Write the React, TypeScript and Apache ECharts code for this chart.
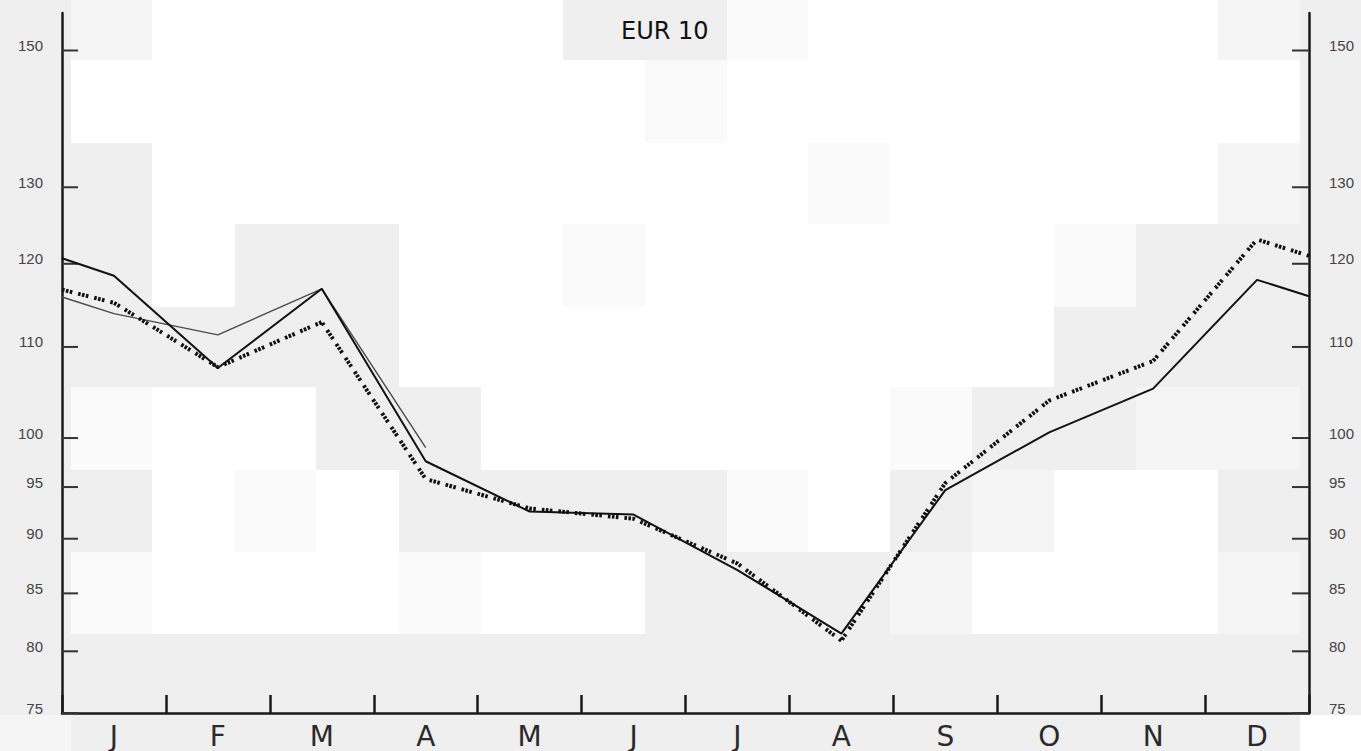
import React, { useEffect, useRef } from "react";
import * as echarts from "echarts";

// ---- data ----
const months = ["J", "F", "M", "A", "M", "J", "J", "A", "S", "O", "N", "D"];
// x positions: left edge, 12 month centres, right edge
const xPositions = [0, 0.5, 1.5, 2.5, 3.5, 4.5, 5.5, 6.5, 7.5, 8.5, 9.5, 10.5, 11.5, 12];
const solidThick = [120.7, 118.5, 107.6, 116.9, 97.6, 92.6, 92.3, 87.1, 81.5, 94.7, 100.6, 105.3, 118.0, 116.0];
const solidThin = [115.9, 113.9, 111.4, 116.9, 99.0, null, null, null, null, null, null, null, null, null];
const dotted = [116.8, 115.2, 107.7, 112.9, 95.8, 92.9, 91.9, 87.7, 80.9, 95.4, 104.0, 108.4, 123.1, 121.0];
const yTicks = [75, 80, 85, 90, 95, 100, 110, 120, 130, 150];
const yMin = 75;
const yMax = 156;
const title = "EUR 10";

// ---- decorative background blocks (scan texture) ----
const colEdges = [0, 71, 152, 235, 316, 399, 481, 563, 645, 727, 808, 890, 972, 1054, 1136, 1218, 1300, 1361];
const rowEdges = [0, 60, 143, 224, 307, 387, 470, 552, 634, 715, 751];
const shadeRows = [
  "glwwwwwggfwwwwwlg",
  "gwwwwwwwfwwwwwwwg",
  "ggwwwwwwwwfwwwwlg",
  "ggwggwwfwwwwwfggg",
  "gggggwwwwwwwwgggg",
  "gfwwggwwwwwfggllg",
  "ggwfwggggfwglwwgg",
  "gfwwwfwwggglwwwlg",
  "ggggggggggggggggg",
  "lgggggggggggggggw",
];
const shadeColors: Record<string, string> = { g: "#efefef", l: "#f5f5f5", f: "#fafafa" };

export default function App() {
  const ref = useRef<HTMLDivElement>(null);
  useEffect(() => {
    if (!ref.current) return;
    const chart = echarts.init(ref.current, null, { renderer: "svg" });

    const bg: any[] = [];
    shadeRows.forEach((row, r) => {
      row.split("").forEach((c, ci) => {
        if (c === "w") return;
        bg.push({
          type: "rect",
          silent: true,
          z: -10,
          shape: {
            x: colEdges[ci],
            y: rowEdges[r],
            width: colEdges[ci + 1] - colEdges[ci],
            height: rowEdges[r + 1] - rowEdges[r],
          },
          style: { fill: shadeColors[c] },
        });
      });
    });

    const toPairs = (arr: (number | null)[]) => arr.map((v, i) => [xPositions[i], v]);

    const option: any = {
      animation: false,
      backgroundColor: "#ffffff",
      title: {
        text: title,
        left: 621,
        top: 19,
        padding: 0,
        textStyle: {
          fontFamily: "DejaVu Sans",
          fontSize: 24,
          lineHeight: 24,
          fontWeight: "normal",
          color: "#111",
        },
      },
      graphic: { elements: bg },
      grid: { left: 62, right: 52, top: 13, bottom: 38 },
      xAxis: [
        { type: "value", min: 0, max: 12, show: false },
        {
          type: "category",
          data: months,
          boundaryGap: true,
          position: "bottom",
          axisLine: { show: true, lineStyle: { color: "#1a1a1a", width: 2.5 } },
          axisTick: {
            show: true,
            inside: true,
            length: 18,
            interval: 0,
            lineStyle: { color: "#1a1a1a", width: 2.5 },
          },
          axisLabel: {
            show: true,
            interval: 0,
            margin: 9,
            fontFamily: "DejaVu Sans",
            fontSize: 28,
            lineHeight: 28,
            color: "#2a2a2a",
            verticalAlign: "top",
          },
          splitLine: { show: false },
        },
      ],
      yAxis: [
        {
          type: "log",
          min: yMin,
          max: yMax,
          position: "left",
          axisLine: { show: true, lineStyle: { color: "#1a1a1a", width: 2.5 } },
          axisTick: { show: false },
          axisLabel: { show: false },
          splitLine: { show: false },
          minorTick: { show: false },
        },
        {
          type: "log",
          min: yMin,
          max: yMax,
          position: "right",
          axisLine: { show: true, lineStyle: { color: "#1a1a1a", width: 2.5 } },
          axisTick: { show: false },
          axisLabel: { show: false },
          splitLine: { show: false },
        },
      ],
      series: [
        {
          type: "custom",
          xAxisIndex: 0,
          yAxisIndex: 0,
          clip: false,
          silent: true,
          z: 3,
          data: yTicks.map((v) => [0, v]),
          encode: { x: 0, y: 1 },
          renderItem: (params: any, api: any) => {
            const v = api.value(1);
            const pL = api.coord([0, v]);
            const pR = api.coord([12, v]);
            const txt = String(v);
            const common = { fontSize: 15, fontFamily: "Liberation Sans", fill: "#444" };
            return {
              type: "group",
              children: [
                {
                  type: "line",
                  shape: { x1: pL[0], y1: pL[1], x2: pL[0] + 16, y2: pL[1] },
                  style: { stroke: "#333", lineWidth: 2 },
                },
                {
                  type: "line",
                  shape: { x1: pR[0] - 17, y1: pR[1], x2: pR[0], y2: pR[1] },
                  style: { stroke: "#333", lineWidth: 2 },
                },
                {
                  type: "text",
                  x: pL[0] - 19,
                  y: pL[1] - 5,
                  style: { ...common, text: txt, textAlign: "right", textVerticalAlign: "middle" },
                },
                {
                  type: "text",
                  x: pR[0] + 20,
                  y: pR[1] - 5,
                  style: { ...common, text: txt, textAlign: "left", textVerticalAlign: "middle" },
                },
              ],
            };
          },
        },
        {
          name: "thin",
          type: "line",
          xAxisIndex: 0,
          yAxisIndex: 0,
          data: toPairs(solidThin),
          showSymbol: false,
          symbol: "none",
          connectNulls: false,
          lineStyle: { color: "#4a4a4a", width: 1.4 },
          z: 4,
        },
        {
          name: "dotted",
          type: "line",
          xAxisIndex: 0,
          yAxisIndex: 0,
          data: toPairs(dotted),
          showSymbol: false,
          symbol: "none",
          lineStyle: {
            color: "#111",
            width: 4,
            type: [2.6, 1.4, 2.6, 1.4, 2.6, 6],
            cap: "butt",
          },
          z: 5,
        },
        {
          name: "thick",
          type: "line",
          xAxisIndex: 0,
          yAxisIndex: 0,
          data: toPairs(solidThick),
          showSymbol: false,
          symbol: "none",
          lineStyle: { color: "#111", width: 2 },
          z: 6,
        },
      ],
    };
    chart.setOption(option);
    return () => chart.dispose();
  }, []);
  return (
    <div
      ref={ref}
      style={{ position: "absolute", left: 0, top: 0, width: 1361, height: 751 }}
    />
  );
}
